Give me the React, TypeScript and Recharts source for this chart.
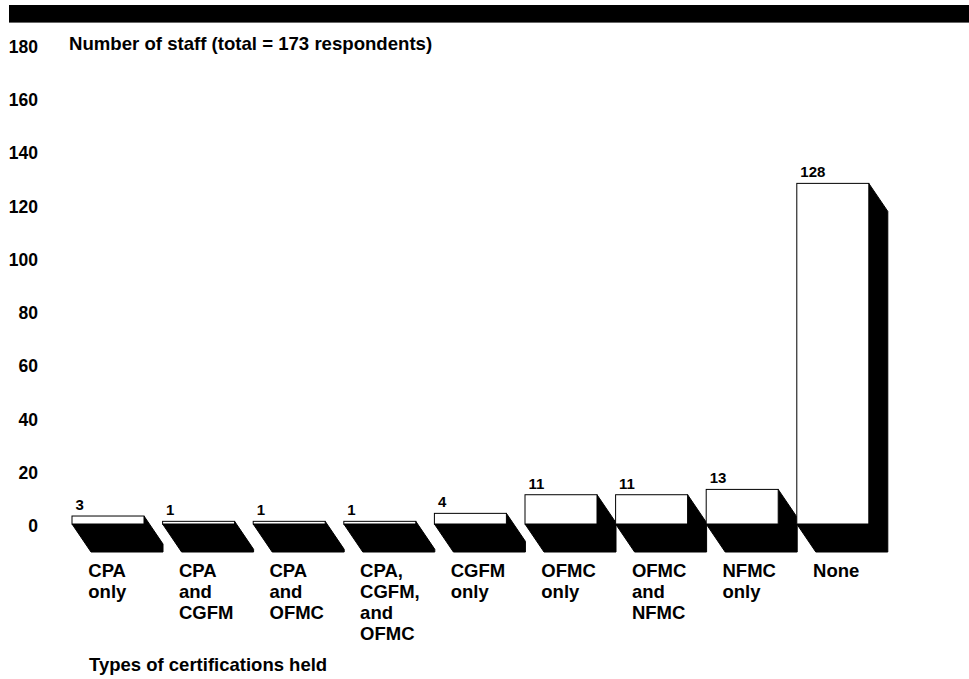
import React from 'react';
import { BarChart, Bar, XAxis, YAxis, LabelList, Label } from 'recharts';

const categories = [
  'CPA only',
  'CPA and CGFM',
  'CPA and OFMC',
  'CPA, CGFM, and OFMC',
  'CGFM only',
  'OFMC only',
  'OFMC and NFMC',
  'NFMC only',
  'None',
];
const staffCounts = [3, 1, 1, 1, 4, 11, 11, 13, 128];
const yTicks = [0, 20, 40, 60, 80, 100, 120, 140, 160, 180];
const yAxisTitle = 'Number of staff (total = 173 respondents)';
const xAxisTitle = 'Types of certifications held';

const data = categories.map((name, i) => ({ name, value: staffCounts[i] }));

const FONT = "'Liberation Sans', Arial, Helvetica, sans-serif";
const DX = 19;
const DY = 28;

function Bar3D(props: any) {
  const { x, y, width, height } = props;
  const x0 = Number(x);
  const x1 = x0 + Number(width);
  const yTop = Number(y);
  const yBase = yTop + Number(height);
  const pts = [
    [x1, yTop],
    [x1 + DX, yTop + DY],
    [x1 + DX, yBase + DY],
    [x0 + DX, yBase + DY],
    [x0, yBase],
    [x1, yBase],
  ]
    .map((p) => p.join(','))
    .join(' ');
  return (
    <g>
      <polygon points={pts} fill="#000" stroke="#000" strokeWidth={1} />
      <rect x={x0} y={yTop} width={Number(width)} height={Number(height)} fill="#fff" stroke="#000" strokeWidth={1} />
    </g>
  );
}

function YTick(props: any) {
  const { y, payload } = props;
  return (
    <text x={38} y={y + 8} textAnchor="end" fontSize={17.5} fontWeight="bold" fontFamily={FONT} fill="#000">
      {payload.value}
    </text>
  );
}

function XTick(props: any) {
  const { x, payload } = props;
  const words = String(payload.value).split(' ');
  return (
    <text x={x - 20} y={577} textAnchor="start" fontSize={18.5} fontWeight="bold" fontFamily={FONT} fill="#000">
      {words.map((w, i) => (
        <tspan key={i} x={x - 20} dy={i === 0 ? 0 : 21}>
          {w}
        </tspan>
      ))}
    </text>
  );
}

function ValueLabel(props: any) {
  const { x, y, value } = props;
  return (
    <text x={Number(x) + 3.5} y={Number(y) - 6} textAnchor="start" fontSize={15} fontWeight="bold" fontFamily={FONT} fill="#000">
      {value}
    </text>
  );
}

export default function App() {
  return (
    <div style={{ position: 'absolute', left: 0, top: 0, width: 969, height: 679, background: '#fff' }}>
      <div
        style={{
          position: 'absolute',
          left: 9,
          top: 5,
          width: 960,
          height: 17,
          background: '#000',
          borderBottom: '1px solid #666',
        }}
      />
      <div style={{ position: 'absolute', left: 0, top: 0 }}>
        <BarChart
          width={969}
          height={679}
          data={data}
          margin={{ top: 45, right: 90.6, bottom: 0, left: 0 }}
          barSize={72}
        >
          <YAxis
            type="number"
            domain={[0, 180]}
            ticks={yTicks}
            width={63}
            axisLine={false}
            tickLine={false}
            tick={<YTick />}
            interval={0}
          >
            <Label
              content={() => (
                <text x={69} y={50} textAnchor="start" fontSize={18.6} fontWeight="bold" fontFamily={FONT} fill="#000">
                  {yAxisTitle}
                </text>
              )}
            />
          </YAxis>
          <XAxis
            dataKey="name"
            height={155}
            axisLine={false}
            tickLine={false}
            tick={<XTick />}
            interval={0}
          >
            <Label
              content={() => (
                <text x={89} y={671} textAnchor="start" fontSize={18.5} fontWeight="bold" fontFamily={FONT} fill="#000">
                  {xAxisTitle}
                </text>
              )}
            />
          </XAxis>
          <Bar dataKey="value" shape={<Bar3D />} isAnimationActive={false}>
            <LabelList dataKey="value" content={<ValueLabel />} />
          </Bar>
        </BarChart>
      </div>
    </div>
  );
}
